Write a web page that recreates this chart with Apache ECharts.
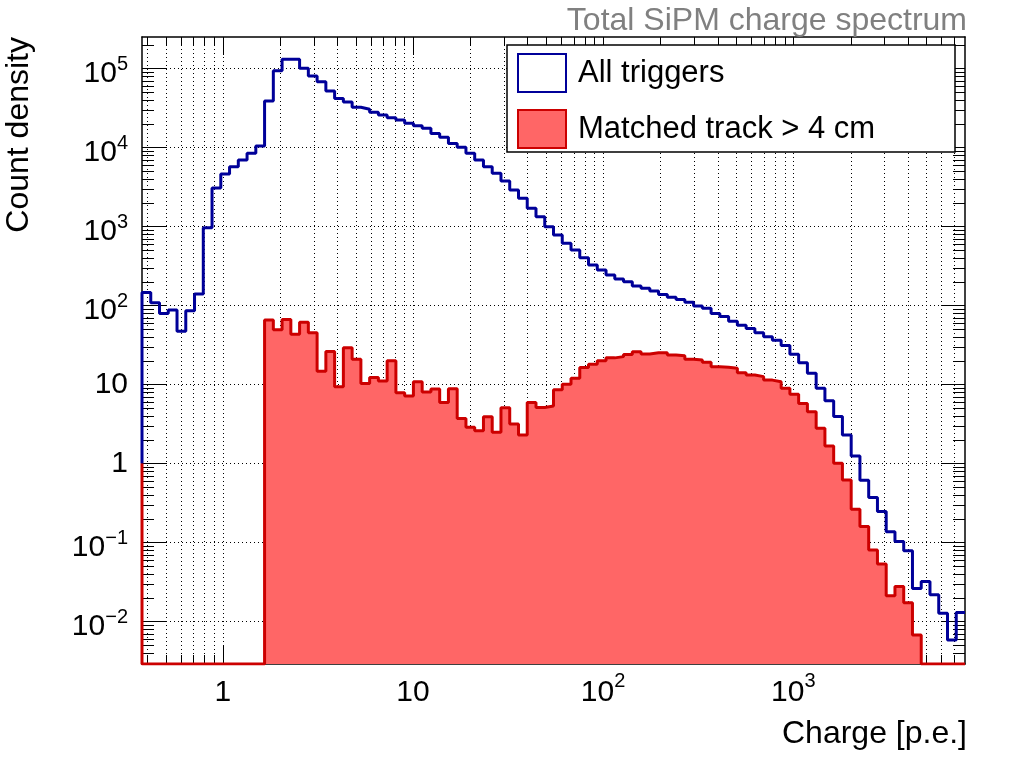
<!DOCTYPE html>
<html>
<head>
<meta charset="utf-8">
<script src="https://cdn.jsdelivr.net/npm/echarts@6/dist/echarts.min.js"></script>
<style>
html,body{margin:0;padding:0;background:#fff;}
#chart{width:1016px;height:764px;}
</style>
</head>
<body>
<div id="chart"></div>
<script>
// ---- histogram binning (log-spaced bins) ----
const X_MIN = 0.376;
const X_MAX = 8000;
const N_BINS = 94;
const Y_MIN = 0.00288;
const Y_MAX = 2.49e5;
const BASELINE = 1;

// ---- texts ----
const TITLE = 'Total SiPM charge spectrum';
const X_NAME = 'Charge [p.e.]';
const Y_NAME = 'Count density';
const SERIES_NAMES = ['All triggers', 'Matched track > 4 cm'];

// ---- series values (one per bin) ----
const allTriggers = [
  145, 108, 79, 87, 47, 85, 139, 960, 3050, 4600,
  5690, 6900, 8400, 10400, 38500, 93000, 130000, 130000, 100000, 80000,
  67700, 51700, 41600, 37400, 32100, 30300, 27700, 25700, 23700, 22100,
  20200, 18800, 17400, 15000, 13400, 11200, 10000, 8400, 6900, 5680,
  4690, 3740, 2880, 2260, 1690, 1320, 990, 776, 609, 501,
  400, 324, 280, 242, 215, 199, 175, 164, 152, 137,
  126, 118, 109, 98, 92, 79, 72, 63, 56, 51,
  45, 40, 36, 31, 24, 18.8, 13.8, 8.9, 6.2, 3.9,
  2.28, 1.24, 0.61, 0.37, 0.245, 0.136, 0.102, 0.078, 0.026, 0.032,
  0.0216, 0.0126, 0.0058, 0.0129
];
const matchedTrack = [
  0, 0, 0, 0, 0, 0, 0, 0, 0, 0,
  0, 0, 0, 0, 65, 49, 66, 43, 61, 45,
  14.6, 26, 9.3, 29, 20.7, 10.2, 12.2, 11, 19.8, 7.8,
  7.1, 10.8, 8.0, 8.7, 5.9, 8.8, 3.7, 2.85, 2.59, 3.89,
  2.47, 5.06, 3.14, 2.28, 5.9, 5.1, 5.3, 8.5, 10, 11.9,
  16.3, 18, 19.8, 21.6, 22.4, 23.8, 25.9, 24.2, 25, 25,
  23.5, 23, 20.7, 20.3, 19.0, 16.7, 16.4, 16.0, 14.0, 13.1,
  12.5, 11.3, 10.8, 8.9, 7.5, 5.7, 4.5, 2.77, 1.66, 1.0,
  0.615, 0.262, 0.158, 0.080, 0.053, 0.021, 0.0275, 0.0172, 0.0067, 0,
  0, 0, 0, 0
];

// tick positions of the log axes
const TICK_MULT = [1, 2, 3, 4, 5, 6, 7, 8, 9];   // 1 = major (decade), others minor
const X_DECADES = [-1, 0, 1, 2, 3];
const Y_DECADES = [-3, -2, -1, 0, 1, 2, 3, 4, 5];

const FONT = '"Liberation Sans", Arial, Helvetica, sans-serif';
const BLUE = '#000099';
const RED_LINE = '#cc0000';
const RED_FILL = '#ff6666';

// bin edges
const edges = [];
for (let i = 0; i <= N_BINS; i++) edges.push(X_MIN * Math.pow(X_MAX / X_MIN, i / N_BINS));

function stepData(vals) {
  const d = [[edges[0], BASELINE]];
  for (let i = 0; i < vals.length; i++) d.push([edges[i], vals[i] > 0 ? vals[i] : Y_MIN]);
  d.push([edges[vals.length], vals[vals.length - 1] > 0 ? vals[vals.length - 1] : Y_MIN]);
  return d;
}

// tick / grid data: [x, y, kind]
// kind 0 = x minor, 1 = y minor, 2 = x major, 3 = y major
const tickData = [];
X_DECADES.forEach(function (k) {
  TICK_MULT.forEach(function (m) {
    const v = m * Math.pow(10, k);
    if (v > X_MIN && v < X_MAX) tickData.push([v, BASELINE, m === 1 ? 2 : 0]);
  });
});
Y_DECADES.forEach(function (k) {
  TICK_MULT.forEach(function (m) {
    const v = m * Math.pow(10, k);
    if (v > Y_MIN && v < Y_MAX) tickData.push([BASELINE, v, m === 1 ? 3 : 1]);
  });
});

function decadeExp(v) {
  const e = Math.log10(v);
  const r = Math.round(e);
  return Math.abs(e - r) > 1e-6 ? null : r;
}
function supText(r) {
  return '{b|10}{s|' + (r < 0 ? '\u2212' : '') + Math.abs(r) + '}';
}
function xLabel(v) {
  const r = decadeExp(v);
  if (r === null) return '';
  if (r === 0) return '{b|1}';
  if (r === 1) return '{b|10}';
  return supText(r);
}
function yLabel(v) {
  const r = decadeExp(v);
  if (r === null) return '';
  if (r === 0) return '{p|1}';
  if (r === 1) return '{p|10}';
  return supText(r);
}

const LABEL_FS = 30;
const SUP_FS = 20;
const X_MAJOR_TICK = 18, X_MINOR_TICK = 9;
const Y_MAJOR_TICK = 24, Y_MINOR_TICK = 12;

const chart = echarts.init(document.getElementById('chart'), null, {renderer: 'canvas'});

const frameAxis = {
  axisLine: {show: true, onZero: false, lineStyle: {color: '#000', width: 1.5}},
  axisTick: {show: false},
  splitLine: {show: false},
  minorTick: {show: false},
  minorSplitLine: {show: false}
};

const option = {
  animation: false,
  backgroundColor: '#ffffff',
  title: {
    text: TITLE,
    right: 44,
    top: 0,
    textStyle: {fontFamily: FONT, fontSize: 32, fontWeight: 'normal', color: '#808080'}
  },
  grid: {left: 142, right: 51, top: 37, bottom: 100, containLabel: false},
  legend: {
    orient: 'vertical',
    left: 517,
    top: 53,
    padding: 0,
    itemWidth: 48,
    itemHeight: 38,
    itemGap: 16,
    z: 10,
    selectedMode: false,
    textStyle: {fontFamily: FONT, fontSize: 31, color: '#000', padding: [0, 0, 0, 7]},
    data: [
      {name: SERIES_NAMES[0], icon: 'rect', itemStyle: {color: '#ffffff', borderColor: BLUE, borderWidth: 2}},
      {name: SERIES_NAMES[1], icon: 'rect', itemStyle: {color: RED_FILL, borderColor: RED_LINE, borderWidth: 2}}
    ]
  },
  graphic: [{
    type: 'rect',
    z: 8,
    shape: {x: 507, y: 45, width: 448, height: 107},
    style: {fill: '#ffffff', stroke: '#000000', lineWidth: 1.5}
  }],
  xAxis: [Object.assign({
    type: 'log',
    min: X_MIN,
    max: X_MAX,
    position: 'bottom',
    name: X_NAME,
    nameLocation: 'end',
    nameGap: 2,
    nameTextStyle: {fontFamily: FONT, fontSize: 32, color: '#000', align: 'right', verticalAlign: 'top', padding: [54, 0, 0, 0]},
    axisLabel: {
      show: true, margin: 4, showMinLabel: false, showMaxLabel: false,
      formatter: xLabel,
      rich: {
        b: {fontFamily: FONT, fontSize: LABEL_FS, color: '#000', lineHeight: 40, verticalAlign: 'bottom'},
        s: {fontFamily: FONT, fontSize: SUP_FS, color: '#000', lineHeight: 40, verticalAlign: 'top', padding: [3, 0, 0, 0]}
      }
    }
  }, frameAxis), Object.assign({
    type: 'log',
    min: X_MIN,
    max: X_MAX,
    position: 'top',
    axisLabel: {show: false}
  }, frameAxis)],
  yAxis: [Object.assign({
    type: 'log',
    min: Y_MIN,
    max: Y_MAX,
    position: 'left',
    name: Y_NAME,
    nameLocation: 'end',
    nameGap: 0,
    nameRotate: 90,
    nameTextStyle: {fontFamily: FONT, fontSize: 32, color: '#000', align: 'right', verticalAlign: 'bottom', padding: [0, 0, 107, 0]},
    axisLabel: {
      show: true, margin: 14, showMinLabel: false, showMaxLabel: false,
      formatter: yLabel,
      rich: {
        p: {fontFamily: FONT, fontSize: LABEL_FS, color: '#000', lineHeight: 30},
        b: {fontFamily: FONT, fontSize: LABEL_FS, color: '#000', lineHeight: 40, verticalAlign: 'bottom'},
        s: {fontFamily: FONT, fontSize: SUP_FS, color: '#000', lineHeight: 40, verticalAlign: 'top', padding: [6, 0, 0, 0]}
      }
    }
  }, frameAxis), Object.assign({
    type: 'log',
    min: Y_MIN,
    max: Y_MAX,
    position: 'right',
    axisLabel: {show: false}
  }, frameAxis)],
  series: [
    {
      type: 'custom',
      name: 'ticks',
      xAxisIndex: 0,
      yAxisIndex: 0,
      z: 1,
      silent: true,
      encode: {x: 0, y: 1},
      data: tickData,
      renderItem: function (params, api) {
        const cs = params.coordSys;
        const kind = api.value(2);
        const st = {stroke: '#000', lineWidth: 1};
        const dot = {stroke: '#000', lineWidth: 1, lineDash: [1, 3]};
        if (kind === 0 || kind === 2) {
          const len = kind === 2 ? X_MAJOR_TICK : X_MINOR_TICK;
          const px = Math.round(api.coord([api.value(0), BASELINE])[0]) + 0.5;
          const top = cs.y, bot = cs.y + cs.height;
          return {type: 'group', children: [
            {type: 'line', shape: {x1: px, y1: top, x2: px, y2: bot}, style: dot},
            {type: 'line', shape: {x1: px, y1: bot, x2: px, y2: bot - len}, style: st},
            {type: 'line', shape: {x1: px, y1: top, x2: px, y2: top + len}, style: st}
          ]};
        }
        const len = kind === 3 ? Y_MAJOR_TICK : Y_MINOR_TICK;
        const py = Math.round(api.coord([BASELINE, api.value(1)])[1]) + 0.5;
        const l = cs.x, r = cs.x + cs.width;
        const children = [
          {type: 'line', shape: {x1: l, y1: py, x2: l + len, y2: py}, style: st},
          {type: 'line', shape: {x1: r, y1: py, x2: r - len, y2: py}, style: st}
        ];
        if (kind === 3) children.unshift({type: 'line', shape: {x1: l, y1: py, x2: r, y2: py}, style: dot});
        return {type: 'group', children: children};
      }
    },
    {
      type: 'line',
      name: SERIES_NAMES[1],
      xAxisIndex: 0,
      yAxisIndex: 0,
      z: 2,
      step: 'end',
      showSymbol: false,
      symbol: 'none',
      clip: true,
      lineStyle: {color: RED_LINE, width: 3},
      itemStyle: {color: RED_LINE},
      areaStyle: {color: RED_FILL, opacity: 1, origin: 'start'},
      data: stepData(matchedTrack)
    },
    {
      type: 'line',
      name: SERIES_NAMES[0],
      xAxisIndex: 0,
      yAxisIndex: 0,
      z: 3,
      step: 'end',
      showSymbol: false,
      symbol: 'none',
      clip: true,
      lineStyle: {color: BLUE, width: 3},
      itemStyle: {color: BLUE},
      data: stepData(allTriggers)
    }
  ]
};

chart.setOption(option);
</script>
</body>
</html>
